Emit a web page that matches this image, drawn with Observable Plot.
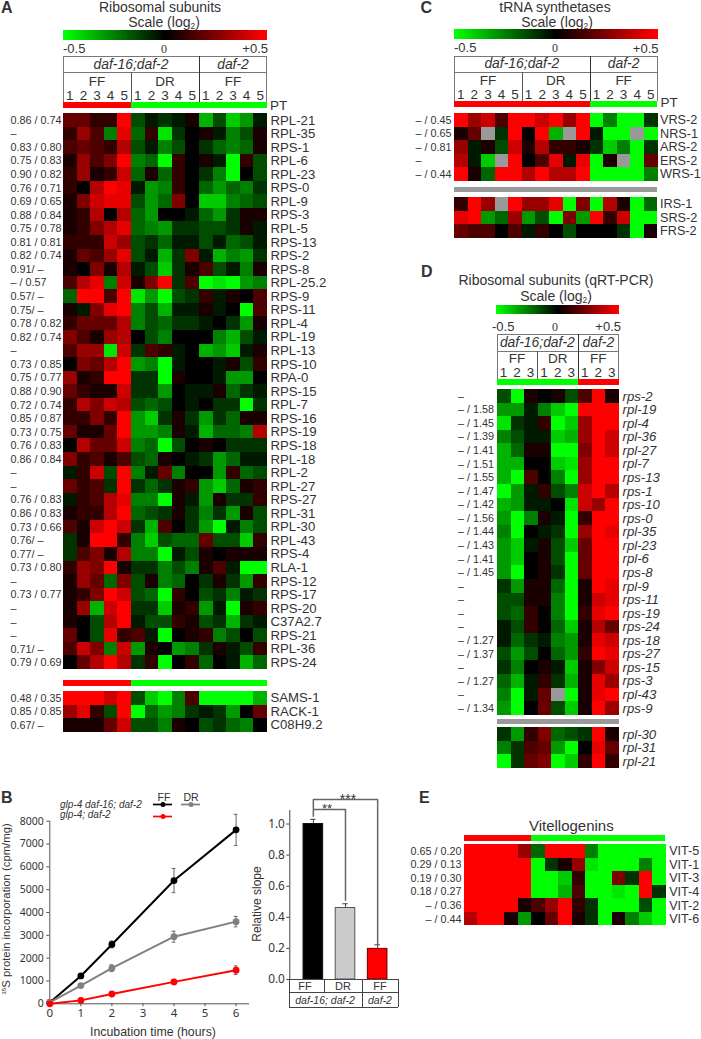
<!DOCTYPE html>
<html><head><meta charset="utf-8">
<script src="https://cdn.jsdelivr.net/npm/d3@7"></script>
<script src="https://cdn.jsdelivr.net/npm/@observablehq/plot@0.6"></script>
<style>
html,body{margin:0;padding:0;background:#fff}
#c{position:relative;width:701px;height:1039px;overflow:hidden;font-family:"Liberation Sans",Arial,sans-serif;color:#333}
#c svg{position:absolute;max-width:none}
.t{position:absolute;white-space:nowrap;line-height:1}
.l{position:absolute}
</style></head><body><div id="c"></div>
<script>
// Values: log2 ratio in units of 0.05 (−10 = −0.5, +10 = +0.5); null = missing (grey)
const genesA=["RPL-21","RPL-35","RPS-1","RPL-6","RPL-23","RPS-0","RPL-9","RPS-3","RPL-5","RPS-13","RPS-2","RPS-8","RPL-25.2","RPS-9","RPS-11","RPL-4","RPL-19","RPL-13","RPS-10","RPA-0","RPS-15","RPL-7","RPS-16","RPS-19","RPS-18","RPL-18","RPL-2","RPL-27","RPS-27","RPL-31","RPL-30","RPL-43","RPS-4","RLA-1","RPS-12","RPS-17","RPS-20","C37A2.7","RPS-21","RPL-36","RPS-24"];
const corrA=["0.86 / 0.74","–","0.83 / 0.80","0.75 / 0.83","0.90 / 0.82","0.76 / 0.71","0.69 / 0.65","0.88 / 0.84","0.75 / 0.78","0.81 / 0.81","0.82 / 0.74","0.91/ –","– / 0.57","0.57/ –","0.75/ –","0.78 / 0.82","0.82 / 0.74","–","0.73 / 0.85","0.75 / 0.77","0.88 / 0.90","0.72 / 0.74","0.85 / 0.87","0.73 / 0.75","0.76 / 0.83","0.86 / 0.84","–","–","0.76 / 0.83","0.86 / 0.83","0.73 / 0.66","0.76/ –","0.77/ –","0.73 / 0.80","–","0.73 / 0.77","–","–","–","0.71/ –","0.79 / 0.69"];
const valuesA=[
[4,4,2,2,10,-3,-1,-2,-1,1,-7,-3,-8,-6,-1],
[2,6,3,-5,9,-4,2,-9,-2,0,1,-1,-5,-3,1],
[3,4,3,2,7,-3,-1,-5,-3,0,-2,-4,-5,-4,1],
[1,6,3,5,10,-5,-4,-10,2,0,1,-1,-10,2,-3],
[2,6,1,2,8,-4,1,-4,2,0,-2,-5,-10,0,-3],
[2,0,7,10,9,-1,-6,-5,2,0,-4,-6,-4,-5,-2],
[1,5,8,9,9,-3,-6,-4,5,0,-8,-8,-5,-4,-3],
[1,2,7,0,7,-4,-6,0,0,-1,-4,-6,-2,1,1],
[1,2,5,7,9,-4,-5,-6,-2,-2,-3,-3,-2,1,-1],
[2,2,2,8,6,-3,-2,-4,-1,-1,-3,-1,-4,-3,-1],
[1,4,3,6,9,-3,-1,-7,-2,5,-1,-7,-5,-6,-2],
[1,0,5,1,7,-1,-3,-8,-2,1,3,-3,-1,-5,1],
[3,7,9,-5,8,1,5,10,-2,3,-10,-9,-10,-6,-5],
[-4,10,10,3,10,-9,-6,-10,-3,-2,2,-1,1,0,3],
[1,-1,5,9,10,-5,-3,-7,-1,-1,1,-1,0,-10,3],
[2,4,4,4,7,-5,-3,-4,-2,-2,-1,0,-2,-6,1],
[5,3,1,6,7,0,-3,-5,0,0,0,-5,-7,-3,-1],
[3,6,6,-9,8,-2,3,2,-1,0,-7,-6,-8,-1,1],
[0,5,4,7,10,-6,-5,-10,-1,0,0,-1,1,-3,2],
[6,1,2,10,10,-2,-2,-10,1,0,0,-1,-6,-6,0],
[4,2,1,1,8,-2,-2,-6,0,-1,-1,1,-4,-2,-1],
[2,7,5,8,7,-3,-4,-3,0,-1,0,-2,-2,-10,-2],
[2,2,5,2,10,-6,-8,-2,1,-2,-6,-2,-4,1,1],
[4,1,1,4,10,-6,-6,-5,1,-1,-7,-4,-4,-5,7],
[0,7,4,4,8,-5,-4,-10,-3,0,1,0,-2,-2,-2],
[5,2,3,1,3,-3,-4,1,0,-1,-2,-6,-4,-1,-1],
[-1,2,8,-3,10,-5,-1,4,-5,0,0,-6,2,-4,-3],
[4,2,3,-2,10,-2,-4,-2,1,2,-6,-8,-4,1,2],
[-1,2,3,7,9,-5,-5,-10,1,-1,-6,1,-2,-2,2],
[1,2,2,7,10,-4,-3,-2,1,-2,-5,-2,-6,1,-3],
[3,1,8,10,8,-2,-7,3,0,-2,-6,-10,-1,-5,-3],
[-2,1,10,10,2,-5,-8,-3,-4,-4,4,-3,-3,-8,2],
[-2,3,5,1,7,-5,-5,-10,-1,-3,1,0,1,1,1],
[2,6,5,10,1,-2,-2,-5,-3,-5,1,3,-1,-10,-10],
[1,6,4,-4,5,-3,1,-5,-4,0,-2,1,-2,-6,2],
[1,2,5,10,8,-3,-4,-10,2,0,-3,-2,-5,-1,-2],
[1,6,-7,8,10,-2,-2,-8,1,2,-6,-1,-10,1,2],
[1,0,-3,7,10,-1,-3,-3,2,1,-3,-2,-7,-2,-1],
[4,0,-3,9,2,3,-1,-10,0,1,2,-5,-3,0,-3],
[3,8,5,-5,8,-6,1,0,-6,-5,-2,1,-1,-3,2],
[0,4,7,10,7,-2,2,-10,0,2,-4,0,-1,-7,-4]];
const genesA2=["SAMS-1","RACK-1","C08H9.2"];
const corrA2=["0.48 / 0.35","0.85 / 0.85","0.67/ –"];
const valuesA2=[
[10,10,10,8,10,-3,-8,-10,-5,3,-10,-10,-10,-10,-7],
[6,9,2,-3,10,-10,-4,-6,-5,-2,-1,-2,-6,0,4],
[1,1,1,4,8,-3,-3,-5,1,0,-3,-2,-4,-5,0]];
const ptA=[10,10,10,10,10,-10,-10,-10,-10,-10,-10,-10,-10,-10,-10];

const genesC=["VRS-2","NRS-1","ARS-2","ERS-2","WRS-1"];
const corrC=["– / 0.45","– / 0.65","– / 0.81","–","– / 0.44"];
const valuesC=[
[10,6,8,3,10,10,8,10,6,10,-10,-5,-10,-10,-2],
[1,4,null,-2,10,0,10,-7,null,10,-1,-10,-10,null,-10],
[6,-1,1,-3,8,1,7,2,2,1,-2,-8,-5,-10,-2],
[7,-1,-8,null,10,0,3,9,-1,9,-10,1,null,-10,4],
[10,1,-4,10,10,7,10,7,7,10,-10,-10,-10,-10,-5]];
const genesC2=["IRS-1","SRS-2","FRS-2"];
const valuesC2=[
[2,10,6,null,10,6,6,9,-10,5,-10,7,1,-10,-4],
[9,10,-6,-4,6,-6,-3,-10,5,-6,10,2,8,-10,-10],
[4,3,3,0,3,-1,2,0,-3,0,0,0,-2,-10,1]];
const ptC=[10,10,10,10,10,10,10,10,10,10,-10,-10,-10,-10,-10];

const genesD=["rps-2","rpl-19","rpl-4","rpl-36","rpl-27","rpl-7","rps-13","rps-1","rps-10","rps-0","rpl-35","rpl-23","rpl-6","rps-8","rpl-9","rps-11","rps-19","rps-24","rps-18","rps-27","rps-15","rps-3","rpl-43","rps-9"];
const corrD=["–","– / 1.58","– / 1.45","– / 1.39","– / 1.41","– / 1.51","– / 1.55","– / 1.47","– / 1.42","– / 1.56","– / 1.44","– / 1.43","– / 1.41","– / 1.45","–","–","–","–","– / 1.27","– / 1.37","–","– / 1.27","–","– / 1.34"];
const valuesD=[
[-3,-10,1,0,1,-3,3,10,1],
[-6,-6,-1,-5,-8,-10,10,10,10],
[-9,-2,-1,2,-10,-8,6,10,10],
[-5,-3,-1,-1,-8,-7,6,10,8],
[-7,-4,1,1,-10,-10,5,10,8],
[-7,-7,0,0,-8,-9,6,10,10],
[-7,-10,3,0,-5,-10,6,10,10],
[-10,-6,-1,2,-3,-5,8,10,7],
[-7,-6,-1,-1,0,-9,8,6,10],
[-6,-10,-5,1,-1,-10,2,10,10],
[-5,-10,0,-1,-2,-10,6,10,9],
[-6,-8,-1,1,-3,-8,4,10,10],
[-6,-8,0,1,-3,-10,4,10,10],
[-6,-10,0,1,-2,-10,4,10,10],
[-2,-6,1,1,-4,-10,1,10,9],
[-3,-3,1,1,-5,-10,1,8,9],
[-3,-4,2,0,-5,-10,2,9,10],
[-1,-3,2,0,-4,-8,1,7,4],
[-1,-4,-2,-1,-5,-6,1,9,8],
[-3,-6,-3,0,-4,-6,2,10,9],
[-2,-5,0,1,-1,-8,1,5,8],
[-4,-7,-1,2,-2,-7,1,9,6],
[-5,-10,-1,4,null,-10,1,9,10],
[-6,-10,0,4,-3,-8,1,10,6]];
const genesD2=["rpl-30","rpl-31","rpl-21"];
const valuesD2=[
[-2,-6,2,5,-4,-3,-2,10,1],
[-5,-2,3,4,-6,-10,0,9,4],
[-10,-2,4,5,-10,-8,2,10,2]];
const ptD=[-10,-10,-10,-10,-10,-10,10,10,10];

const genesE=["VIT-5","VIT-1","VIT-3","VIT-4","VIT-2","VIT-6"];
const corrE=["0.65 / 0.20","0.29 / 0.13","0.19 / 0.30","0.18 / 0.27","– / 0.36","– / 0.44"];
const valuesE=[
[10,10,10,10,6,-4,10,10,10,-5,-10,-10,-10,-10,-10],
[10,10,10,10,10,-10,-2,1,6,-9,-10,-10,-10,-5,-10],
[10,10,10,10,10,-10,-10,-8,2,-10,-10,5,-2,10,-10],
[10,10,10,10,10,-10,-10,-7,3,-10,-10,-9,-10,10,-2],
[10,10,10,10,1,3,6,10,2,-2,-10,-10,-10,-3,-10],
[7,10,10,1,-6,0,4,10,1,-2,-10,1,-5,-8,-10]];

// Panel B data
const hours=[0,1,2,4,6];
const blackMean=[60,1220,2600,5400,7620];
const blackErr=[40,60,150,530,680];
const greyMean=[60,800,1560,2940,3600];
const greyErr=[40,60,150,240,230];
const redMean=[0,150,430,960,1470];
const redErr=[20,50,50,50,190];
const slopeGroups=["daf-16 FF","daf-16 DR","daf-2 FF"];
const slopeMean=[1.0,0.46,0.197];
const slopeTop=[1.03,0.487,0.223];
const slopeFill=["#000","#ccc","#f00"];
const slopeStroke=["#111","#555","#600"];

const INK="#333";
const root=document.getElementById("c");
const colorScale={type:"linear",domain:[-10,0,10],range:["#00ff00","#000000","#ff0000"],clamp:true};

function place(svg,x,y){svg.style.left=x+"px";svg.style.top=y+"px";root.appendChild(svg);return svg;}
function txt(s,x,y,o={}){
  const e=document.createElement("div");e.className="t";e.innerHTML=s;
  const a=o.anchor||"middle";const tx=a==="middle"?"-50%":a==="end"?"-100%":"0";
  e.style.left=x+"px";e.style.top=y+"px";e.style.fontSize=(o.size||13)+"px";
  if(o.italic)e.style.fontStyle="italic";if(o.bold)e.style.fontWeight="bold";
  if(o.font)e.style.fontFamily=o.font;if(o.color)e.style.color=o.color;
  e.style.transform=`translate(${tx},-50%)`+(o.rotate?` rotate(${o.rotate}deg)`:"");
  root.appendChild(e);
}
function hline(x0,x1,y,c="#777"){const e=document.createElement("div");e.className="l";e.style.cssText+=`left:${x0}px;top:${y}px;width:${x1-x0}px;height:1px;background:${c}`;root.appendChild(e);}
function vline(x,y0,y1,c="#777"){const e=document.createElement("div");e.className="l";e.style.cssText+=`left:${x}px;top:${y0}px;width:1px;height:${y1-y0}px;background:${c}`;root.appendChild(e);}

function heat({genes,values,left,top,width,height,corr,corrX,corrEnd,rightSize=13.2,rightDx=3,italic=false,marginL=0,marginR=0}){
  const n=values[0].length;
  const cols=d3.range(n);
  const tidy=genes.flatMap((g,i)=>values[i].map((v,j)=>({g,j,v})));
  const marks=[
    Plot.cell(tidy.filter(d=>d.v!=null),{x:"j",y:"g",fill:"v",shapeRendering:"crispEdges"}),
    Plot.cell(tidy.filter(d=>d.v==null),{x:"j",y:"g",fill:"#999",shapeRendering:"crispEdges"})
  ];
  if(marginR)marks.push(Plot.text(genes,{y:d=>d,text:d=>d,frameAnchor:"right",textAnchor:"start",dx:rightDx,fontSize:rightSize,fill:INK,fontStyle:italic?"italic":"normal",fontFamily:"Liberation Sans"}));
  if(corr)marks.push(Plot.text(genes.map((g,i)=>({g,c:corr[i]})),{y:"g",text:"c",frameAnchor:"left",textAnchor:corrEnd?"end":"start",dx:corrEnd?-3:corrX-left,fontSize:10.8,fill:INK,fontFamily:"Liberation Sans"}));
  const svg=Plot.plot({width:width+marginL+marginR,height,marginLeft:marginL,marginRight:marginR,marginTop:0,marginBottom:0,
    x:{type:"band",domain:cols,padding:0,round:false,axis:null},y:{type:"band",domain:genes,padding:0,round:false,axis:null},
    color:colorScale,style:{background:"none",overflow:"visible"},marks});
  place(svg,left-marginL,top);
}
function ptBar(pt,left,top,width,height){heat({genes:["PT"],values:[pt],left,top,width,height});}
function ramp(left,top,width,height){
  const steps=d3.range(-10,10.01,0.25);
  place(Plot.plot({width,height,margin:0,x:{type:"band",domain:steps,padding:0,round:false,axis:null},color:colorScale,style:{background:"none"},
    marks:[Plot.cell(steps,{x:d=>d,fill:d=>d,shapeRendering:"crispEdges"})]}),left,top);
}
function header({x0,cell,n,groups,strains,y0,y1,y2,strainY,groupY,digitY}){
  const x1=x0+cell*n;
  hline(x0,x1,y0);hline(x0,x1,y1);vline(x0,y0,y2);vline(x1-1,y0,y2);
  let c=0;const splits=[];
  groups.forEach(g=>{const mid=x0+cell*(c+g.n/2);txt(g.name,mid,groupY,{size:13.5});
    for(let i=0;i<g.n;i++)txt(String(i+1),x0+cell*(c+i+.5),digitY,{size:13.5});
    c+=g.n;splits.push(x0+cell*c);});
  vline(splits[0],y1,y2,"#555");
  vline(splits[1],y0,y2,"#333");
  txt(strains[0],(x0+splits[1])/2,strainY,{size:13.9,italic:true});
  txt(strains[1],(splits[1]+x1)/2,strainY,{size:13.9,italic:true});
}
function panelLetter(s,x,y){txt(s,x,y,{size:16,bold:true,anchor:"start",color:"#333"});}
const SUB=s=>`<span style="font-size:.6em;position:relative;top:.25em;line-height:0">${s}</span>`;

// PANEL A
panelLetter("A",1,8);
txt("Ribosomal subunits",160,7,{size:14});
txt("Scale (log"+SUB("2")+")",164,21.5,{size:14});
ramp(63,30,204,10);
txt("-0.5",63,48,{size:13,anchor:"start"});
txt("0",164,48.5,{size:12,font:"Liberation Serif"});
txt("+0.5",268,48,{size:13,anchor:"end"});
const strainsAll=["daf-16;daf-2","daf-2"];
const groups5=[{name:"FF",n:5},{name:"DR",n:5},{name:"FF",n:5}];
header({x0:63,cell:13.6,n:15,groups:groups5,strains:strainsAll,y0:56,y1:72,y2:102,strainY:64.5,groupY:82,digitY:96});
ptBar(ptA,63,102,204,6);
txt("PT",270,106,{size:13.5,anchor:"start"});
heat({genes:genesA,values:valuesA,left:63,top:113.3,width:204,height:556,corr:corrA,corrX:10,marginL:63,marginR:60});
ptBar(ptA,63,680,204,5.5);
heat({genes:genesA2,values:valuesA2,left:63,top:690.5,width:204,height:40.5,corr:corrA2,corrX:10,marginL:63,marginR:60});

// PANEL C
panelLetter("C",420.5,8);
txt("tRNA synthetases",555,7,{size:14});
txt("Scale (log"+SUB("2")+")",557,22,{size:14});
ramp(454,29,203.5,10);
txt("-0.5",454,47,{size:13,anchor:"start"});
txt("0",555,48,{size:12,font:"Liberation Serif"});
txt("+0.5",658.5,48,{size:13,anchor:"end"});
header({x0:454,cell:13.57,n:15,groups:groups5,strains:strainsAll,y0:56,y1:71.5,y2:100.5,strainY:64,groupY:81,digitY:95});
ptBar(ptC,454,100.5,203.5,5.7);
txt("PT",660.5,103,{size:13.5,anchor:"start"});
heat({genes:genesC,values:valuesC,left:454,top:113.3,width:203.5,height:67.5,corr:corrC,corrX:415,marginL:40,marginR:43,rightSize:12.7,rightDx:2});
heat({genes:["gap"],values:[new Array(15).fill(null)],left:454,top:187.3,width:203,height:5.4});
heat({genes:genesC2,values:valuesC2,left:454,top:197.3,width:203.5,height:40.7,marginR:43,rightSize:12.7,rightDx:2});

// PANEL D
panelLetter("D",421,272);
txt("Ribosomal subunits (qRT-PCR)",556,280,{size:14});
txt("Scale (log"+SUB("2")+")",556,296,{size:14});
ramp(495.7,305,123.3,9.5);
txt("-0.5",492,326,{size:13,anchor:"start"});
txt("0",555,327,{size:12,font:"Liberation Serif"});
txt("+0.5",621,326,{size:13,anchor:"end"});
header({x0:496.7,cell:13.55,n:9,groups:[{name:"FF",n:3},{name:"DR",n:3},{name:"FF",n:3}],strains:strainsAll,y0:334,y1:350.7,y2:379.3,strainY:343,groupY:359,digitY:373});
ptBar(ptD,496.7,379.3,122,5.5);
heat({genes:genesD,values:valuesD,left:496.7,top:389.3,width:122,height:325.7,corr:corrD,corrX:457.3,marginL:40,marginR:45,italic:true});
heat({genes:["gap"],values:[new Array(9).fill(null)],left:496.7,top:719.3,width:122,height:5.4});
heat({genes:genesD2,values:valuesD2,left:496.7,top:727.3,width:122,height:40.7,marginR:45,italic:true});

// PANEL E
panelLetter("E",419,798);
txt("Vitellogenins",571.3,824.5,{size:15});
ptBar(ptA,464.3,835,201.7,5.7);
heat({genes:genesE,values:valuesE,left:464.3,top:844.3,width:201.7,height:81.4,corr:corrE,corrEnd:true,marginL:60,marginR:34,rightSize:12.6});
// PANEL B line chart
panelLetter("B",1,798);
const series=[["#000",blackMean,blackErr],["#808080",greyMean,greyErr],["#f00",redMean,redErr]];
const pts=series.flatMap(([c,m,e])=>hours.map((h,i)=>({c,h,m:m[i],lo:m[i]-e[i],hi:m[i]+e[i]})));
const lineMarks=series.flatMap(([c])=>{
  const d=pts.filter(p=>p.c===c);
  return [
    Plot.ruleX(d,{x:"h",y1:"lo",y2:"hi",stroke:"#666",strokeWidth:1}),
    Plot.ruleY(d,{y:"lo",x1:p=>p.h-0.06,x2:p=>p.h+0.06,stroke:"#666"}),
    Plot.ruleY(d,{y:"hi",x1:p=>p.h-0.06,x2:p=>p.h+0.06,stroke:"#666"}),
    Plot.line(d,{x:"h",y:"m",stroke:c,strokeWidth:2}),
    Plot.dot(d,{x:"h",y:"m",fill:c,r:3.4})
  ];
});
place(Plot.plot({width:260,height:225,marginLeft:49.3,marginRight:12,marginTop:10.7,marginBottom:31.7,
  x:{domain:[0,6.4]},y:{domain:[0,8000]},style:{background:"none",overflow:"visible"},
  marks:[
    Plot.axisX({ticks:[0,1,2,3,4,5,6],tickSize:3,tickPadding:2,fontSize:11.5,label:null,fill:INK,stroke:"#555",tickFormat:d=>String(d)}),
    Plot.axisY({ticks:d3.range(0,8001,1000),tickSize:3,tickPadding:3,fontSize:10.5,label:null,fill:INK,stroke:"#555",tickFormat:d=>String(d)}),
    Plot.frame({anchor:"left",stroke:"#555"}),Plot.frame({anchor:"bottom",stroke:"#555"}),
    ...lineMarks
  ]}),0,810);
txt("Incubation time (hours)",153,1031.5,{size:12.3});
txt('<sup style="font-size:.55em;line-height:0">35</sup>S protein incorporation (cpm/mg)',6.5,909,{size:11.3,rotate:-90});

// Panel B legend
const legendKeys=[{col:"FF",row:"a",c:"#000"},{col:"DR",row:"a",c:"#808080"},{col:"FF",row:"b",c:"#f00"}];
place(Plot.plot({width:56,height:12,margin:0,x:{type:"band",domain:["FF","DR"],padding:0,round:false,axis:null},y:{type:"point",domain:["a","b"],padding:0,round:false,axis:null},
  style:{background:"none",overflow:"visible"},
  marks:[Plot.tickY(legendKeys,{x:"col",y:"row",stroke:"c",strokeWidth:1.7,insetLeft:0,insetRight:9}),
         Plot.dot(legendKeys,{x:"col",y:"row",fill:"c",r:2.5,dx:-4.5})]}),153,804);
txt("FF",164,796.5,{size:10.5});txt("DR",191,796.5,{size:10.5});
txt("glp-4 daf-16; daf-2",60,804.5,{size:10,italic:true,anchor:"start"});
txt("glp-4; daf-2",60,815,{size:10,italic:true,anchor:"start"});

// Panel B bar chart
const slopes=slopeGroups.map((g,i)=>({g,v:slopeMean[i],hi:slopeTop[i],f:slopeFill[i],s:slopeStroke[i]}));
const bracket1=[{x:slopeGroups[0],y:1.05},{x:slopeGroups[0],y:1.093},{x:slopeGroups[1],y:1.093},{x:slopeGroups[1],y:0.509}];
const bracket2=[{x:slopeGroups[0],y:1.10},{x:slopeGroups[0],y:1.157},{x:slopeGroups[2],y:1.157},{x:slopeGroups[2],y:0.23}];
place(Plot.plot({width:150,height:189,marginLeft:39.3,marginRight:0,marginTop:20,marginBottom:0,
  x:{type:"band",domain:slopeGroups,range:[40.5,149.5],padding:0.39,align:0.5,round:false,axis:null},
  y:{domain:[0,1.087]},style:{background:"none",overflow:"visible"},
  marks:[
    Plot.axisY({ticks:[0,0.2,0.4,0.6,0.8,1.0],tickSize:3,tickPadding:2,fontSize:11.8,label:null,fill:INK,stroke:"#444",tickFormat:d3.format(".1f")}),
    Plot.frame({anchor:"left",stroke:"#444"}),
    Plot.line(bracket1,{x:"x",y:"y",stroke:"#666"}),
    Plot.line(bracket2,{x:"x",y:"y",stroke:"#666"}),
    Plot.ruleX(slopes,{x:"g",y1:"v",y2:"hi",stroke:"#444"}),
    Plot.tickY(slopes,{x:"g",y:"hi",stroke:"#444",insetLeft:7,insetRight:7}),
    Plot.barY(slopes,{x:"g",y:"v",fill:"f",stroke:"s",strokeWidth:1})
  ]}),250,790);
txt("Relative slope",256.5,904,{size:12,rotate:-90});
txt("**",327,808,{size:13});txt("***",348,799,{size:14});
hline(289.3,398.5,979,"#444");hline(289.3,398.5,992.3,"#444");hline(289.3,398.5,1006.7,"#444");
vline(289.3,979,1007,"#444");vline(324.3,979,992.3,"#444");vline(361.7,979,1007,"#444");vline(398.3,979,1007,"#444");
txt("FF",305,986,{size:11});txt("DR",343,986,{size:11});txt("FF",380,986,{size:11});
txt("daf-16; daf-2",325,1000,{size:10.5,italic:true});txt("daf-2",380,1000,{size:10.5,italic:true});
</script></body></html>
